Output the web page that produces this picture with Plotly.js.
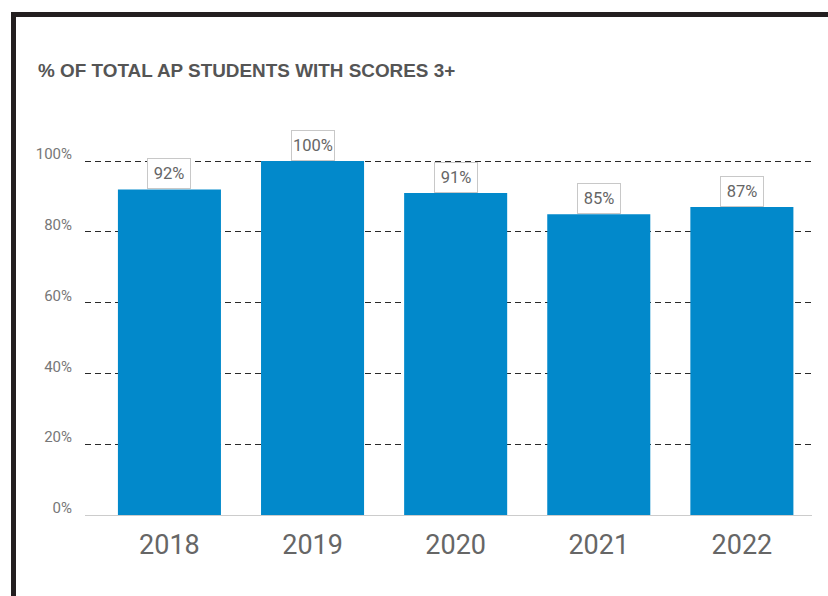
<!DOCTYPE html>
<html>
<head>
<meta charset="utf-8">
<script src="https://cdn.plot.ly/plotly-3.0.1.min.js"></script>
<style>
  html, body { margin: 0; padding: 0; background: #fff; }
  #wrap { position: relative; width: 828px; height: 596px; overflow: hidden; }
  #chart { width: 828px; height: 596px; }
  #frame { position: absolute; left: 11px; top: 12px; width: 900px; height: 700px;
           border-top: 5px solid #231f20; border-left: 5px solid #231f20; pointer-events: none; }
  #err { position: absolute; left: 100px; top: 100px; color: red; font: 12px sans-serif; }
</style>
</head>
<body>
<div id="wrap">
  <div id="chart"></div>
  <div id="frame"></div>
  <div id="err"></div>
</div>
<script>
window.onerror = function (m) { document.getElementById('err').textContent = m; };

const years = ['2018', '2019', '2020', '2021', '2022'];
const pctValues = [92, 100, 91, 85, 87];
const pctLabels = ['92%', '100%', '91%', '85%', '87%'];
const yTickVals = [0, 20, 40, 60, 80, 100];
const yTickText = ['0%', '20%', '40%', '60%', '80%', '100%'];

const trace = {
  type: 'bar',
  x: years,
  y: pctValues,
  width: 0.72,
  marker: { color: '#0289cb' },
  hoverinfo: 'none',
  cliponaxis: false
};

const annotations = years.map((yr, i) => ({
  x: i, y: pctValues[i], xref: 'x', yref: 'y',
  text: pctLabels[i], showarrow: false,
  yanchor: 'bottom', xanchor: 'center',
  width: 42, height: 29, borderpad: 0, borderwidth: 1,
  bordercolor: '#c8c8c8', bgcolor: '#ffffff',
  font: { family: 'Roboto', size: 16.5, color: '#666666' }
}));

const layout = {
  width: 828, height: 596,
  paper_bgcolor: '#ffffff', plot_bgcolor: '#ffffff',
  margin: { l: 85, r: 16, t: 160, b: 81 },
  showlegend: false,
  title: {
    text: '% OF TOTAL AP STUDENTS WITH SCORES 3+',
    xref: 'container', yref: 'container',
    x: 38 / 828, xanchor: 'left',
    y: 1 - 70 / 596, yanchor: 'middle',
    font: { family: 'Liberation Sans', size: 18.9, color: '#555555', weight: 'bold' }
  },
  xaxis: {
    type: 'category',
    range: [-0.59, 4.49],
    showgrid: false, zeroline: false,
    showline: true, linecolor: '#cccccc', linewidth: 1,
    ticks: '',
    ticklabelstandoff: 6,
    tickfont: { family: 'Roboto', size: 27, color: '#666666' },
    fixedrange: true
  },
  yaxis: {
    range: [0, 100.3],
    tickvals: yTickVals, ticktext: yTickText,
    showgrid: true, gridcolor: '#2a2a2a', gridwidth: 1, griddash: '6px,4px',
    zeroline: true, zerolinecolor: '#cccccc', zerolinewidth: 1,
    showline: false, ticks: '',
    ticklabelshift: -7, ticklabelstandoff: 12,
    tickfont: { family: 'Roboto', size: 15, color: '#777777' },
    fixedrange: true
  },
  annotations: annotations
};

Plotly.newPlot('chart', [trace], layout, { displayModeBar: false, staticPlot: true })
  .catch(function (e) { document.getElementById('err').textContent = String(e); });
</script>
</body>
</html>
